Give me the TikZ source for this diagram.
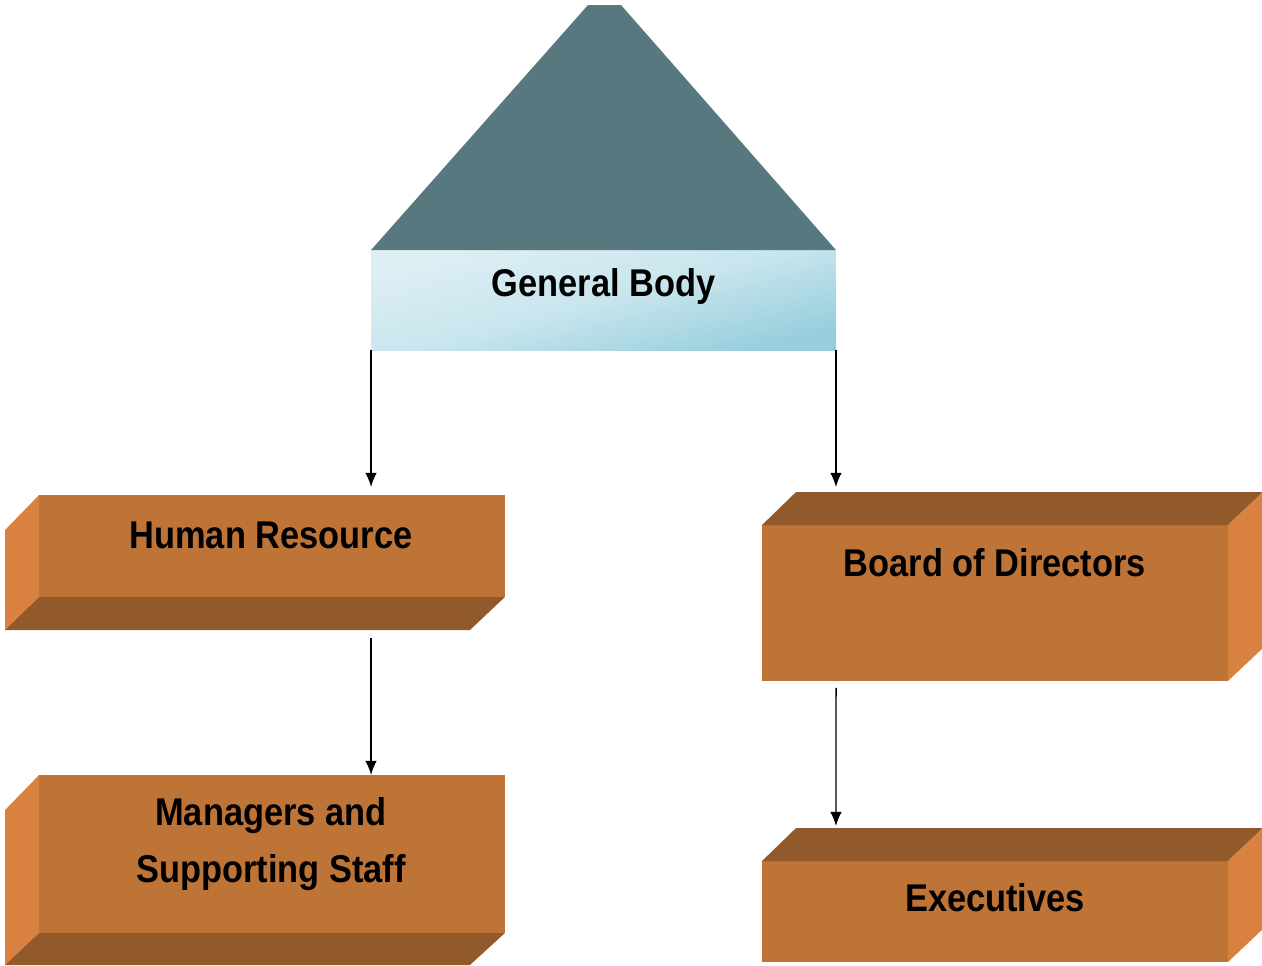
\documentclass[tikz,border=0pt]{standalone}
\usepackage{fontspec}
\setmainfont{Liberation Sans}[FakeStretch=0.89]
\usetikzlibrary{calc,arrows.meta}

\definecolor{roof}{RGB}{88,120,128}
\definecolor{bandlight}{RGB}{222,239,244}
\definecolor{banddark}{RGB}{150,206,221}
\definecolor{brickfront}{RGB}{190,115,55}
\definecolor{brickside}{RGB}{217,130,64}
\definecolor{brickdark}{RGB}{146,89,42}

\tikzstyle{frente}= [rectangle,fill=brickfront,inner sep=0pt,outer sep=0pt,minimum width=9.32cm]
\tikzstyle{lado}= [fill=brickside]
\tikzstyle{sombra}= [fill=brickdark]
\tikzstyle{texto}= [font=\bfseries\fontsize{22}{32}\selectfont,align=center]
\tikzstyle{flecha}= [-{Latex[length=8pt,width=6.5pt]},black,thick]

\begin{document}
\begin{tikzpicture}[x=0.02cm,y=-0.02cm]
		\useasboundingbox (0,0) rectangle (1262,965);

		% cuerpo general
		\node (gb) at (603.5,300) [rectangle,inner sep=0pt,outer sep=0pt,minimum width=9.3cm,minimum height=2cm,top color=bandlight,bottom color=banddark,middle color=bandlight!70!banddark,shading angle=15] {};
		\fill[roof] (gb.north west) -- (588,5) -- (621,5) -- (gb.north east) -- cycle;
		\node (gbtxt) at (603.5,286) [texto] {General Body};

		\node (hr) at (272,546) [frente,minimum height=2.04cm] {};
		\fill[lado] (hr.north west) -- (hr.south west) -- ++(-34,33) -- ($(hr.north west)+(-34,35)$) -- cycle;
		\fill[sombra] (hr.south west) -- (hr.south east) -- ++(-35,33) -- ($(hr.south west)+(-34,33)$) -- cycle;
		\node (hrtxt) at (271,535) [texto] {Human Resource};

		\node (mg) at (272,854) [frente,minimum height=3.16cm] {};
		\fill[lado] (mg.north west) -- (mg.south west) -- ++(-34,32) -- ($(mg.north west)+(-34,35)$) -- cycle;
		\fill[sombra] (mg.south west) -- (mg.south east) -- ++(-35,32) -- ($(mg.south west)+(-34,32)$) -- cycle;
		\node (mgtxt) at (271,844) [texto] {Managers and\\Supporting Staff};

		\node (bd) at (995,603) [frente,minimum height=3.12cm] {};
		\fill[sombra] (bd.north west) -- ++(34,-33) -- ($(bd.north east)+(35,-33)$) -- (bd.north east) -- cycle;
		\fill[lado] (bd.north east) -- ++(35,-33) -- ($(bd.south east)+(35,-33)$) -- (bd.south east) -- cycle;
		\node (bdtxt) at (995,563) [texto] {Board of Directors};

		\node (ex) at (995,911.5) [frente,minimum height=2.02cm] {};
		\fill[sombra] (ex.north west) -- ++(34,-33) -- ($(ex.north east)+(35,-33)$) -- (ex.north east) -- cycle;
		\fill[lado] (ex.north east) -- ++(35,-33) -- ($(ex.south east)+(35,-33)$) -- (ex.south east) -- cycle;
		\node (extxt) at (995,898) [texto] {Executives};

		\draw[flecha] (gb.south west) -- ($(gb.south west |- hr.north)+(0,-8)$);
		\draw[flecha] (gb.south east) -- ($(gb.south east |- bd.north)+(0,-38)$);
		\draw[flecha] ($(hr.south west)+(332,41)$) -- (mg.north west -| gb.south west);
		\draw[flecha] ($(bd.south west)+(74,7)$) -- ($(gb.south east |- ex.north)+(0,-35)$);
		\end{tikzpicture}
\end{document}
